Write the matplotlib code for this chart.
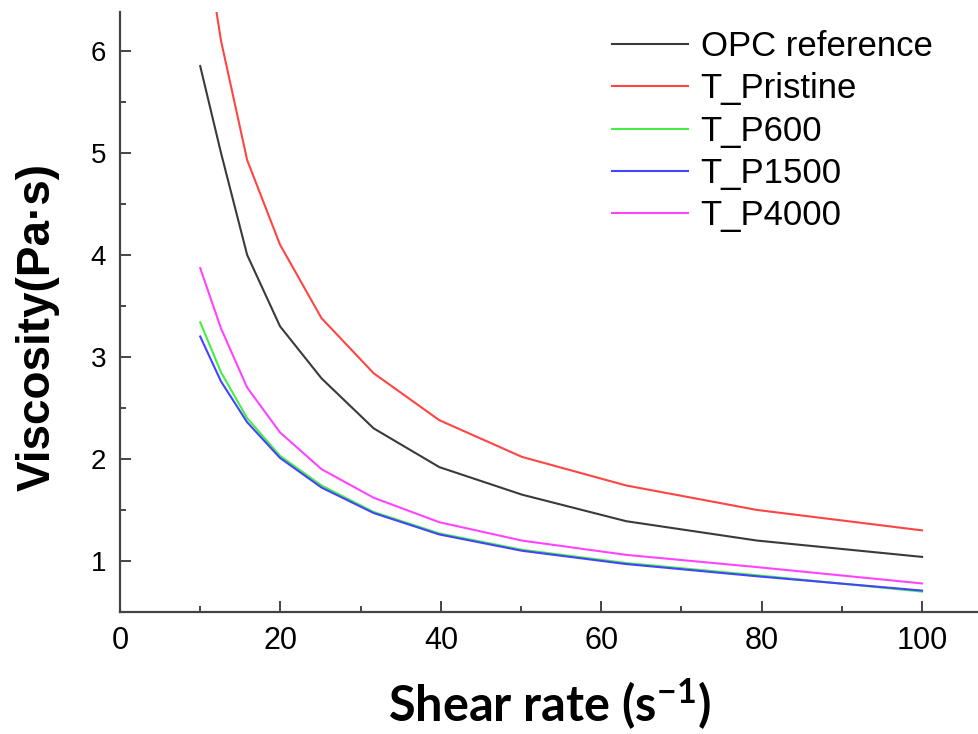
import matplotlib
matplotlib.use("Agg")
import matplotlib.pyplot as plt
from matplotlib.ticker import MultipleLocator

plt.rcParams["mathtext.fontset"] = "custom"
plt.rcParams["mathtext.rm"] = "Lato:bold"
plt.rcParams["mathtext.it"] = "Lato:bold"
plt.rcParams["mathtext.bf"] = "Lato:bold"

shear_rate = [10.0, 12.59, 15.85, 19.95, 25.12, 31.62, 39.81, 50.12, 63.10, 79.43, 100.0]
opc_reference = [5.85, 5.00, 4.00, 3.30, 2.79, 2.30, 1.92, 1.65, 1.39, 1.20, 1.04]
t_pristine = [7.40, 6.10, 4.93, 4.10, 3.38, 2.84, 2.38, 2.02, 1.74, 1.50, 1.30]
t_p600 = [3.34, 2.85, 2.40, 2.03, 1.74, 1.48, 1.27, 1.11, 0.98, 0.86, 0.70]
t_p1500 = [3.20, 2.76, 2.36, 2.01, 1.72, 1.47, 1.26, 1.10, 0.97, 0.85, 0.71]
t_p4000 = [3.87, 3.28, 2.70, 2.26, 1.90, 1.62, 1.38, 1.20, 1.06, 0.94, 0.78]

series_labels = ["OPC reference", "T_Pristine", "T_P600", "T_P1500", "T_P4000"]
series_values = [opc_reference, t_pristine, t_p600, t_p1500, t_p4000]
series_colors = ["#3a3a3a", "#ff4444", "#44ee44", "#4444ff", "#ff44ff"]

fig = plt.figure(figsize=(9.79, 7.34), dpi=100)
ax = fig.add_axes([120/979, 122/734, 1 - 120/979, (612-12)/734])

for lab, vals, col in zip(series_labels, series_values, series_colors):
    ax.plot(shear_rate, vals, color=col, lw=1.5, label=lab)

ax.set_xlim(0, 107.1)
ax.set_ylim(0.5, 6.38)
ax.xaxis.set_major_locator(MultipleLocator(20))
ax.xaxis.set_minor_locator(MultipleLocator(10))
ax.yaxis.set_major_locator(MultipleLocator(1))
ax.yaxis.set_minor_locator(MultipleLocator(0.5))
for s in ["top", "right"]:
    ax.spines[s].set_visible(False)
for s in ["left", "bottom"]:
    ax.spines[s].set_color("#444444")
    ax.spines[s].set_linewidth(1.6)
ax.tick_params(which="both", direction="in", color="#444444", width=1.4)
ax.tick_params(which="major", length=8)
ax.tick_params(which="minor", length=4)
ax.tick_params(axis="x", labelsize=22, pad=10)
ax.tick_params(axis="y", labelsize=20, pad=10)
for t in ax.get_xticklabels() + ax.get_yticklabels():
    t.set_family("Liberation Sans")

ax.set_xlabel("Shear rate (s$^{-1}$)", fontsize=35, fontweight="bold",
              family="Lato", labelpad=15)
ax.set_ylabel("Viscosity(Pa\u00b7s)", fontsize=33, fontweight="bold",
              family="Liberation Sans")
ax.yaxis.set_label_coords(-0.070, 0.475)

leg = ax.legend(loc="upper left", bbox_to_anchor=(612/979, 1 - 30/734),
                bbox_transform=fig.transFigure, frameon=False,
                prop={"family": "Liberation Sans", "size": 25},
                handlelength=2.2, handletextpad=0.35, labelspacing=0.27,
                borderpad=0, borderaxespad=0)

fig.savefig("out.png", dpi=100)
